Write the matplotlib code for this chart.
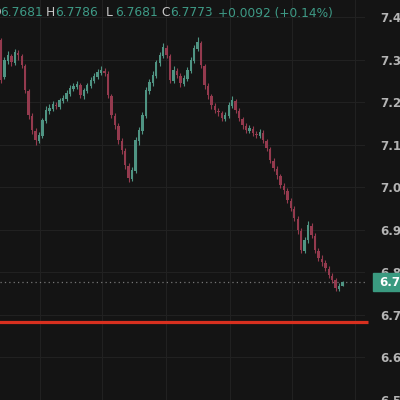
import numpy as np
import matplotlib
matplotlib.use("Agg")
import matplotlib.pyplot as plt
from matplotlib.patches import Rectangle

# ---- donnees ----
opens = [7.346, 7.260, 7.296, 7.309, 7.292, 7.316, 7.309, 7.285, 7.227, 7.168,
         7.133, 7.109, 7.121, 7.156, 7.180, 7.184, 7.194, 7.189, 7.203, 7.208,
         7.220, 7.231, 7.236, 7.241, 7.215, 7.227, 7.238, 7.250, 7.260, 7.269,
         7.274, 7.267, 7.215, 7.168, 7.144, 7.109, 7.086, 7.051, 7.020, 7.039,
         7.109, 7.133, 7.168, 7.227, 7.245, 7.262, 7.292, 7.309, 7.328, 7.309,
         7.250, 7.274, 7.262, 7.243, 7.255, 7.274, 7.297, 7.325, 7.339, 7.285,
         7.238, 7.215, 7.191, 7.180, 7.175, 7.161, 7.168, 7.191, 7.203, 7.180,
         7.161, 7.144, 7.133, 7.137, 7.126, 7.121, 7.128, 7.109, 7.090, 7.062,
         7.044, 7.027, 7.004, 6.992, 6.968, 6.950, 6.926, 6.898, 6.851, 6.875,
         6.910, 6.886, 6.851, 6.832, 6.823, 6.809, 6.792, 6.781, 6.762, 6.7681]
closes = [7.252, 7.299, 7.311, 7.294, 7.318, 7.311, 7.287, 7.229, 7.170, 7.135,
          7.111, 7.123, 7.158, 7.182, 7.186, 7.196, 7.191, 7.205, 7.210, 7.222,
          7.233, 7.238, 7.243, 7.217, 7.229, 7.240, 7.252, 7.262, 7.271, 7.276,
          7.269, 7.217, 7.170, 7.146, 7.111, 7.088, 7.053, 7.022, 7.041, 7.111,
          7.135, 7.170, 7.229, 7.247, 7.264, 7.294, 7.311, 7.330, 7.311, 7.252,
          7.276, 7.264, 7.245, 7.257, 7.276, 7.299, 7.327, 7.341, 7.287, 7.240,
          7.217, 7.193, 7.182, 7.177, 7.163, 7.170, 7.193, 7.205, 7.182, 7.163,
          7.146, 7.135, 7.139, 7.128, 7.123, 7.130, 7.111, 7.092, 7.064, 7.046,
          7.029, 7.006, 6.994, 6.970, 6.952, 6.928, 6.900, 6.853, 6.877, 6.912,
          6.888, 6.853, 6.834, 6.825, 6.811, 6.794, 6.783, 6.764, 6.768, 6.7773]
highs = [7.350, 7.305, 7.320, 7.314, 7.324, 7.322, 7.312, 7.290, 7.232, 7.175,
         7.140, 7.130, 7.163, 7.190, 7.195, 7.202, 7.200, 7.210, 7.216, 7.228,
         7.240, 7.245, 7.250, 7.246, 7.234, 7.246, 7.258, 7.268, 7.278, 7.284,
         7.280, 7.272, 7.220, 7.174, 7.150, 7.115, 7.092, 7.056, 7.048, 7.118,
         7.142, 7.176, 7.236, 7.254, 7.272, 7.300, 7.318, 7.338, 7.334, 7.314,
         7.284, 7.280, 7.268, 7.264, 7.282, 7.306, 7.334, 7.352, 7.344, 7.290,
         7.244, 7.220, 7.198, 7.186, 7.180, 7.176, 7.200, 7.214, 7.208, 7.186,
         7.166, 7.150, 7.146, 7.143, 7.132, 7.136, 7.134, 7.114, 7.095, 7.068,
         7.050, 7.032, 7.010, 6.998, 6.974, 6.955, 6.932, 6.904, 6.884, 6.920,
         6.916, 6.892, 6.857, 6.840, 6.830, 6.815, 6.798, 6.786, 6.774, 6.7786]
lows = [7.245, 7.255, 7.290, 7.285, 7.288, 7.300, 7.280, 7.222, 7.160, 7.125,
        7.100, 7.104, 7.116, 7.150, 7.172, 7.178, 7.185, 7.184, 7.198, 7.203,
        7.214, 7.226, 7.230, 7.210, 7.208, 7.222, 7.233, 7.245, 7.255, 7.263,
        7.262, 7.210, 7.162, 7.138, 7.102, 7.078, 7.044, 7.012, 7.014, 7.034,
        7.100, 7.126, 7.162, 7.220, 7.238, 7.256, 7.286, 7.304, 7.304, 7.244,
        7.245, 7.256, 7.236, 7.238, 7.250, 7.268, 7.292, 7.320, 7.280, 7.232,
        7.208, 7.185, 7.174, 7.168, 7.155, 7.155, 7.163, 7.186, 7.175, 7.155,
        7.138, 7.128, 7.128, 7.120, 7.116, 7.116, 7.104, 7.084, 7.056, 7.038,
        7.020, 6.998, 6.985, 6.962, 6.944, 6.920, 6.890, 6.845, 6.846, 6.870,
        6.880, 6.845, 6.826, 6.816, 6.804, 6.786, 6.774, 6.756, 6.757, 6.7681]

niveau_rouge = 6.684
dernier_prix = 6.7773
graduations = [6.5, 6.6, 6.7, 6.8, 6.9, 7.0, 7.1, 7.2, 7.3, 7.4]
entete = [("O", "6.7681"), ("H", "6.7786"), ("L", "6.7681"), ("C", "6.7773")]
variation = "+0.0092 (+0.14%)"

# ---- couleurs ----
fond = "#141414"
vert = "#4f9483"
rouge = "#943a4e"

fig = plt.figure(figsize=(4, 4), dpi=100, facecolor=fond)
ax = fig.add_axes([0, 0, 365 / 400, 1])
ax.set_facecolor(fond)

x = np.arange(len(closes))
o = np.array(opens)
c = np.array(closes)
couleurs = [vert if cc >= oo else rouge for oo, cc in zip(o, c)]

ax.vlines(x, lows, highs, colors=couleurs, linewidth=0.8, zorder=3)
ax.bar(x, np.abs(c - o), bottom=np.minimum(o, c), width=0.7,
       color=couleurs, linewidth=0, zorder=3)

# ligne du dernier prix (pointillee) et niveau rouge
ax.axhline(dernier_prix, color="#777777", linestyle=(0, (1, 2.5)), linewidth=0.9, zorder=2)
ax.plot([-1, 106.5], [niveau_rouge, niveau_rouge], color="#d8301f",
        linewidth=2.3, solid_capstyle="butt", zorder=4, clip_on=False)

ax.set_xlim(-0.3, 105.5)
ax.set_ylim(6.501, 7.440)

# grille
ax.set_xticks([11.3, 29.3, 47.8, 66.4, 84.3, 102.6])
ax.set_yticks(graduations)
ax.set_yticklabels([f"{g:.4f}" for g in graduations])
ax.grid(True, color="#212121", linewidth=0.8)
ax.set_axisbelow(True)
ax.yaxis.tick_right()
ax.tick_params(axis="x", length=0, labelbottom=False)
ax.tick_params(axis="y", length=0, pad=11, labelsize=8.6, labelcolor="#b4b4b4")
for lab in ax.get_yticklabels():
    lab.set_fontweight("bold")
for s in ax.spines.values():
    s.set_visible(False)

# etiquette du dernier prix
yb = ax.transData.transform((0, dernier_prix))[1] / 400
fig.patches.append(Rectangle((373 / 400, yb - 9 / 400), 30 / 400, 18 / 400,
                             transform=fig.transFigure, color="#3a9a80", zorder=5))
fig.text(379 / 400, yb, f"{dernier_prix:.4f}", color="white", fontsize=8.6,
         fontweight="bold", va="center", ha="left", zorder=6)

# entete OHLC
pos_lettres = [-9, 46, 106, 161]
for (lettre, val), px in zip(entete, pos_lettres):
    fig.text(px / 400, 1 - 13 / 400, lettre, color="#c8c8c8", fontsize=8.8, va="center")
    fig.text((px + 9) / 400, 1 - 13 / 400, val, color="#3e9a86", fontsize=8.8, va="center")
fig.text(218 / 400, 1 - 13 / 400, variation, color="#3e9a86", fontsize=8.8, va="center")

plt.savefig("out.png", dpi=100, facecolor=fond)
